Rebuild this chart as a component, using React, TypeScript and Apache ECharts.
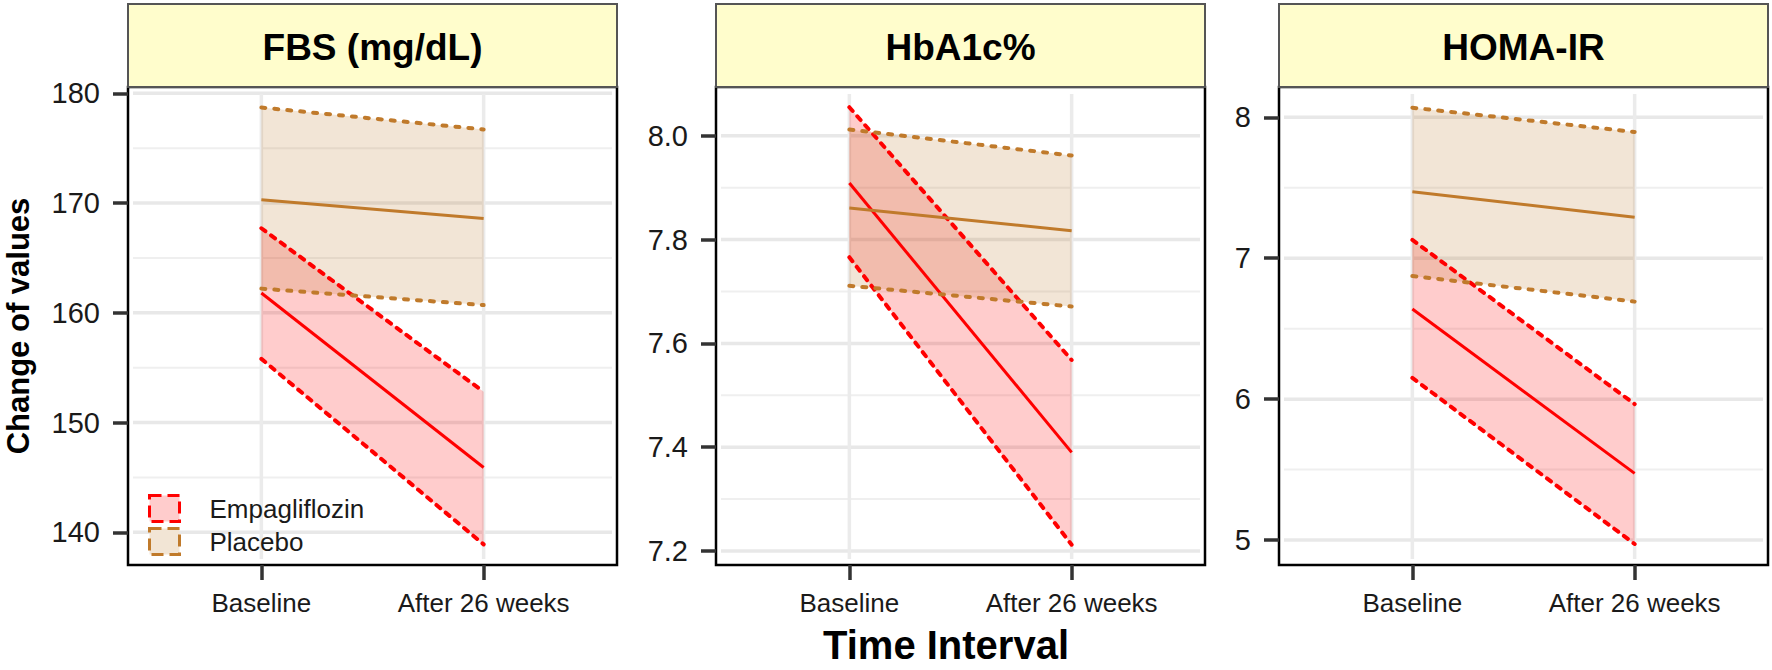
import React, { useEffect, useRef } from 'react';
import * as echarts from 'echarts';

// ---------- data ----------
const timeLabels = ['Baseline', 'After 26 weeks'];
const timePos = [1, 2];
const groupNames = ['Empagliflozin', 'Placebo'];

// FBS (mg/dL)
const fbsEmpaMean = [161.8, 145.9];
const fbsEmpaLower = [155.8, 138.9];
const fbsEmpaUpper = [167.7, 152.8];
const fbsPlaceboMean = [170.3, 168.6];
const fbsPlaceboLower = [162.2, 160.7];
const fbsPlaceboUpper = [178.7, 176.7];
const fbsTicks = [140, 150, 160, 170, 180];
const fbsMinor = [145, 155, 165, 175];

// HbA1c%
const hbaEmpaMean = [7.909, 7.39];
const hbaEmpaLower = [7.766, 7.212];
const hbaEmpaUpper = [8.055, 7.568];
const hbaPlaceboMean = [7.861, 7.817];
const hbaPlaceboLower = [7.711, 7.671];
const hbaPlaceboUpper = [8.012, 7.962];
const hbaTicks = [7.2, 7.4, 7.6, 7.8, 8.0];
const hbaMinor = [7.3, 7.5, 7.7, 7.9];

// HOMA-IR
const homaEmpaMean = [6.64, 5.473];
const homaEmpaLower = [6.151, 4.972];
const homaEmpaUpper = [7.13, 5.965];
const homaPlaceboMean = [7.472, 7.29];
const homaPlaceboLower = [6.874, 6.692];
const homaPlaceboUpper = [8.068, 7.896];
const homaTicks = [5, 6, 7, 8];
const homaMinor = [5.5, 6.5, 7.5];

// ---------- styling ----------
const FONT = "'Liberation Sans', Arial, Helvetica, sans-serif";
const EMPA = '#FF0000';
const EMPA_FILL = 'rgba(255,0,0,0.2)';
const PLAC = '#C07A2B';
const PLAC_FILL = 'rgba(190,125,50,0.2)';
const TOP = 87;
const HEIGHT = 478;
const WIDTH = 489;

const panels = [
  {
    title: 'FBS (mg/dL)', left: 128, min: 137.02, max: 180.57, digits: 0,
    ticks: fbsTicks, minor: fbsMinor,
    empa: [fbsEmpaLower, fbsEmpaMean, fbsEmpaUpper],
    plac: [fbsPlaceboLower, fbsPlaceboMean, fbsPlaceboUpper],
  },
  {
    title: 'HbA1c%', left: 716, min: 7.173, max: 8.094, digits: 1,
    ticks: hbaTicks, minor: hbaMinor,
    empa: [hbaEmpaLower, hbaEmpaMean, hbaEmpaUpper],
    plac: [hbaPlaceboLower, hbaPlaceboMean, hbaPlaceboUpper],
  },
  {
    title: 'HOMA-IR', left: 1279, min: 4.823, max: 8.215, digits: 0,
    ticks: homaTicks, minor: homaMinor,
    empa: [homaEmpaLower, homaEmpaMean, homaEmpaUpper],
    plac: [homaPlaceboLower, homaPlaceboMean, homaPlaceboUpper],
  },
];

function hGrid(gi: number, values: number[], width: number, color: string) {
  return {
    type: 'custom', xAxisIndex: gi, yAxisIndex: gi, silent: true, z: 1,
    data: values.map((v) => [1.5, v]), encode: { x: 0, y: 1 },
    renderItem: (params: any, api: any) => {
      const p = api.coord([1.5, api.value(1)]);
      const cs = params.coordSys;
      return {
        type: 'line',
        shape: { x1: cs.x + 5, y1: p[1], x2: cs.x + cs.width - 5, y2: p[1] },
        style: { stroke: color, lineWidth: width },
      };
    },
  };
}

function vGrid(gi: number, mid: number) {
  return {
    type: 'custom', xAxisIndex: gi, yAxisIndex: gi, silent: true, z: 1,
    data: timePos.map((x) => [x, mid]), encode: { x: 0, y: 1 },
    renderItem: (params: any, api: any) => {
      const p = api.coord([api.value(0), mid]);
      const cs = params.coordSys;
      return {
        type: 'line',
        shape: { x1: p[0], y1: cs.y + 7, x2: p[0], y2: cs.y + cs.height - 6 },
        style: { stroke: '#EBEBEB', lineWidth: 3.5 },
      };
    },
  };
}

function ribbon(gi: number, name: string, lo: number[], hi: number[], fill: string) {
  const data = timePos.map((x, i) => [x, lo[i], hi[i]]);
  return {
    type: 'custom', name, xAxisIndex: gi, yAxisIndex: gi, z: 2, silent: true,
    itemStyle: { color: fill },
    data, encode: { x: 0, y: [1, 2] },
    renderItem: (params: any, api: any) => {
      if (params.dataIndex !== 0) return null;
      const lower = data.map((d) => api.coord([d[0], d[1]]));
      const upper = data.map((d) => api.coord([d[0], d[2]])).reverse();
      return { type: 'polygon', shape: { points: lower.concat(upper) }, style: { fill } };
    },
  };
}

function line(gi: number, vals: number[], color: string, width: number, dash?: number[]) {
  return {
    type: 'line', xAxisIndex: gi, yAxisIndex: gi, z: 3, symbol: 'none', silent: true,
    data: timePos.map((x, i) => [x, vals[i]]),
    lineStyle: { color, width, type: dash || 'solid', cap: dash ? 'round' : 'butt' },
  };
}

export default function App() {
  const ref = useRef<HTMLDivElement>(null);
  useEffect(() => {
    if (!ref.current) return;
    const chart = echarts.init(ref.current, null, { renderer: 'svg' });

    const series: any[] = [];
    panels.forEach((p, gi) => {
      series.push(hGrid(gi, p.minor, 2, '#EFEFEF'));
      series.push(hGrid(gi, p.ticks, 3.5, '#E8E8E8'));
      series.push(vGrid(gi, (p.min + p.max) / 2));
      series.push(ribbon(gi, groupNames[0], p.empa[0], p.empa[2], EMPA_FILL));
      series.push(ribbon(gi, groupNames[1], p.plac[0], p.plac[2], PLAC_FILL));
      series.push(line(gi, p.empa[0], EMPA, 4, [5, 7]));
      series.push(line(gi, p.empa[2], EMPA, 4, [5, 7]));
      series.push(line(gi, p.empa[1], EMPA, 3));
      series.push(line(gi, p.plac[0], PLAC, 4, [4, 9]));
      series.push(line(gi, p.plac[2], PLAC, 4, [4, 9]));
      series.push(line(gi, p.plac[1], PLAC, 3));
    });

    const graphic: any[] = [];
    panels.forEach((p) => {
      graphic.push({
        type: 'rect', z: 10,
        shape: { x: p.left, y: 4, width: WIDTH, height: TOP - 4 },
        style: { fill: '#FFFDCC', stroke: '#555555', lineWidth: 2 },
      });
      graphic.push({
        type: 'text', z: 11, x: p.left + WIDTH / 2, y: 47,
        style: {
          text: p.title, align: 'center', verticalAlign: 'middle',
          font: `bold 37px ${FONT}`, fill: '#000',
        },
      });
    });
    graphic.push({
      type: 'text', z: 11, x: 18, y: TOP + HEIGHT / 2, rotation: Math.PI / 2,
      style: {
        text: 'Change of values', align: 'center', verticalAlign: 'middle',
        font: `bold 31px ${FONT}`, fill: '#000',
      },
    });
    graphic.push({
      type: 'text', z: 11, x: 946, y: 645,
      style: {
        text: 'Time Interval', align: 'center', verticalAlign: 'middle',
        font: `bold 40px ${FONT}`, fill: '#000',
      },
    });

    chart.setOption({
      animation: false,
      backgroundColor: '#ffffff',
      grid: panels.map((p) => ({
        left: p.left, top: TOP, width: WIDTH, height: HEIGHT,
        show: true, borderColor: '#000', borderWidth: 2.5, backgroundColor: '#fff',
      })),
      xAxis: panels.map((p, gi) => ({
        type: 'value', gridIndex: gi, min: 0.4, max: 2.6,
        axisLine: { show: false },
        splitLine: { show: false },
        axisTick: { show: true, customValues: timePos, length: 15, lineStyle: { color: '#333', width: 3.5 } },
        axisLabel: {
          customValues: timePos,
          formatter: (v: number) => timeLabels[timePos.indexOf(v)] ?? '',
          margin: 25, fontSize: 26, color: '#1a1a1a', fontFamily: FONT,
        },
      })),
      yAxis: panels.map((p, gi) => ({
        type: 'value', gridIndex: gi, min: p.min, max: p.max,
        axisLine: { show: false },
        splitLine: { show: false },
        axisTick: { show: true, customValues: p.ticks, length: 15, lineStyle: { color: '#333', width: 3.5 } },
        axisLabel: {
          customValues: p.ticks,
          formatter: (v: number) => v.toFixed(p.digits),
          margin: 28, fontSize: 29, color: '#1a1a1a', fontFamily: FONT,
        },
      })),
      legend: {
        left: 148, top: 494, orient: 'vertical', padding: 0,
        itemWidth: 30, itemHeight: 26, itemGap: 4, icon: 'rect', selectedMode: false,
        data: [
          { name: groupNames[0], itemStyle: { color: '#FFCCCC', borderColor: EMPA, borderWidth: 3, borderType: 'dashed' } },
          { name: groupNames[1], itemStyle: { color: '#F2E5D5', borderColor: PLAC, borderWidth: 3, borderType: 'dashed' } },
        ],
        textStyle: { fontSize: 26, color: '#1a1a1a', fontFamily: FONT, padding: [0, 0, 0, 25] },
      },
      graphic,
      series,
    });
    return () => chart.dispose();
  }, []);

  return (
    <div
      ref={ref}
      style={{ position: 'fixed', left: 0, top: 0, width: 1772, height: 670, background: '#fff' }}
    />
  );
}
